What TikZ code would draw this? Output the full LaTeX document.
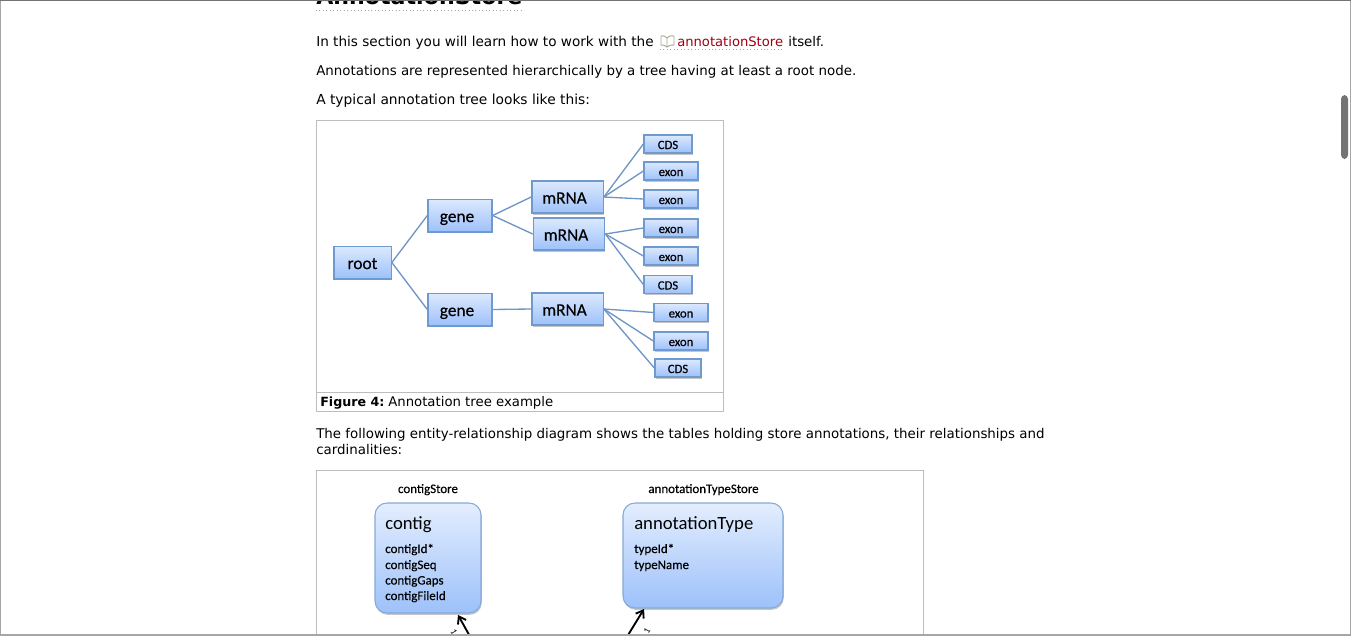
\documentclass[tikz,border=0pt]{standalone}
\usepackage{fontspec}
\setmainfont{DejaVu Sans}
\newfontfamily\figfont{Carlito}
\newfontfamily\figbold[FakeBold=0.35]{Carlito}
\usetikzlibrary{arrows.meta, positioning, shadows}

\definecolor{boxtop}{HTML}{DCE9FE}
\definecolor{boxbottom}{HTML}{9DC1FA}
\definecolor{boxline}{HTML}{6F9AD0}
\definecolor{treeline}{HTML}{6F94C6}
\definecolor{frameline}{HTML}{BDBDBD}
\definecolor{linkred}{HTML}{A00010}
\definecolor{bookline}{HTML}{A8A890}

\tikzset{
    treebox/.style={draw=boxline, line width=1pt, top color=boxtop, bottom color=boxbottom, minimum height=24.5pt, inner sep=0pt, text height=10pt, text depth=.2pt, drop shadow={shadow xshift=.6pt, shadow yshift=-1.2pt, opacity=.45}, font=\figbold\fontsize{13}{13}\selectfont},
    leftbox/.style={treebox, execute at end node=\hspace{4.5pt}},
    smallbox/.style={treebox, minimum height=13.5pt, text height=7.5pt, text depth=0pt, font=\figbold\fontsize{9.5}{9.5}\selectfont},
    erbox/.style={draw=boxline!85, line width=.8pt, rounded corners=9pt, top color=boxtop!80!white, bottom color=boxbottom, inner sep=0pt, drop shadow={shadow xshift=.6pt, shadow yshift=-1.4pt, opacity=.45}},
    pagetext/.style={anchor=base west, inner sep=0pt, font=\fontsize{10.05}{10.05}\selectfont},
    figtext/.style={anchor=base west, inner sep=0pt, font=\figbold\fontsize{9.7}{9.7}\selectfont},
    titletext/.style={figtext, font=\figfont\fontsize{14}{14}\selectfont},
    link/.style={draw=treeline, line width=1pt},
    rel/.style={-{Straight Barb[length=5pt, width=7pt]}, line width=1.4pt}
}

\begin{document}
\begin{tikzpicture}[x=.75pt, y=-.75pt]
    \useasboundingbox (0, 0) rectangle (1351, 635);
    \clip (0, 0) rectangle (1351, 635);

    % page
    \node[pagetext, font=\bfseries\fontsize{16.6}{16.6}\selectfont] (heading) at (316, 5) {AnnotationStore};
    \draw[gray!70, dotted, line width=.6pt] (316, 10) -- (524, 10);
    \node[pagetext, font=\fontsize{10.2}{10.2}\selectfont] (line1) at (316, 46) {In this section you will learn how to work with the};
    \draw[bookline, line width=.7pt] (667, 38) .. controls (664, 35) and (662, 36) .. (661, 36) -- (661, 45) .. controls (663, 45) and (665, 45) .. (667, 47) .. controls (669, 45) and (671, 45) .. (674, 45) -- (674, 36) .. controls (672, 36) and (670, 35) .. (667, 38) -- (667, 47);
    \node[pagetext, text=linkred, font=\fontsize{9.85}{9.85}\selectfont] (store) at (677, 46) {annotationStore};
    \draw[gray!70, dotted, line width=.6pt] (660, 49) -- (783, 49);
    \node[pagetext] (itself) at (788, 46) {itself.};
    \node[pagetext] (line2) at (316, 75) {Annotations are represented hierarchically by a tree having at least a root node.};
    \node[pagetext, font=\fontsize{10.35}{10.35}\selectfont] (line3) at (316, 104) {A typical annotation tree looks like this:};

    % annotation tree
    \draw[frameline, line width=.75pt] (316.5, 120.5) rectangle (723.5, 411.5);
    \draw[frameline, line width=.75pt] (316.5, 392.5) -- (723.5, 392.5);

    \node[treebox, minimum width=43pt] (root) at (362.5, 262.5) {root};
    \node[leftbox, minimum width=48pt] (gene1) at (460, 215.5) {gene};
    \node[leftbox, minimum width=48pt] (gene2) at (460, 309.5) {gene};
    \node[leftbox, minimum width=53.5pt, minimum height=24pt] (mrna1) at (567.5, 197) {mRNA};
    \node[leftbox, minimum width=53.5pt, minimum height=24pt] (mrna2) at (569, 234) {mRNA};
    \node[leftbox, minimum width=53.5pt, minimum height=24pt] (mrna3) at (567.5, 309) {mRNA};
    \node[smallbox, minimum width=36pt] (cds1) at (668, 144) {CDS};
    \node[smallbox, minimum width=40.5pt] (exon1) at (671, 171) {exon};
    \node[smallbox, minimum width=40.5pt] (exon2) at (671, 199) {exon};
    \node[smallbox, minimum width=40.5pt] (exon3) at (671, 228) {exon};
    \node[smallbox, minimum width=40.5pt] (exon4) at (671, 256) {exon};
    \node[smallbox, minimum width=36pt] (cds2) at (668, 284.5) {CDS};
    \node[smallbox, minimum width=40.5pt] (exon5) at (681, 312.5) {exon};
    \node[smallbox, minimum width=40.5pt] (exon6) at (681, 341) {exon};
    \node[smallbox, minimum width=34.5pt] (cds3) at (678, 368) {CDS};

    \draw[link]
    (root.east) edge (gene1.west)
    (root.east) edge (gene2.west)
    (gene1.east) edge (mrna1.west)
    (gene1.east) edge (mrna2.west)
    (gene2.east) edge (mrna3.west)
    (mrna1.east) edge (cds1.west)
    (mrna1.east) edge (exon1.west)
    (mrna1.east) edge (exon2.west)
    (mrna2.east) edge (exon3.west)
    (mrna2.east) edge (exon4.west)
    (mrna2.east) edge (cds2.west)
    (mrna3.east) edge (exon5.west)
    (mrna3.east) edge (exon6.west)
    (mrna3.east) edge (cds3.west);

    \node[pagetext, font=\bfseries\fontsize{9.5}{9.5}\selectfont] (figlabel) at (320, 406) {Figure 4:};
    \node[pagetext, font=\fontsize{9.95}{9.95}\selectfont] (figcaption) at (388, 406) {Annotation tree example};

    \node[pagetext] (line4) at (316, 438) {The following entity-relationship diagram shows the tables holding store annotations, their relationships and};
    \node[pagetext] (line5) at (316, 454) {cardinalities:};

    % entity-relationship diagram
    \draw[frameline, line width=.75pt] (316.5, 470.5) rectangle (923.5, 650);

    \node[figtext, anchor=base] (contigstore) at (428, 493) {contigStore};
    \node[figtext, anchor=base] (typestore) at (703.5, 493) {annotationTypeStore};

    \node[erbox, minimum width=79.5pt, minimum height=82.5pt] (contig) at (428, 558) {};
    \node[titletext] (contigname) at (385, 529) {contig};
    \node[figtext] (contigid) at (385, 553) {contigId*};
    \node[figtext] (contigseq) at (385, 569) {contigSeq};
    \node[figtext] (contiggaps) at (385, 584.5) {contigGaps};
    \node[figtext] (contigfile) at (385, 600) {contigFileId};

    \node[erbox, minimum width=120pt, minimum height=78.75pt] (anntype) at (703, 555.5) {};
    \node[titletext] (typename) at (634, 529) {annotationType};
    \node[figtext] (typeid) at (634, 553) {typeId*};
    \node[figtext] (typelabel) at (634, 569) {typeName};

    \coordinate (contigfrom) at (472, 640);
    \coordinate (typefrom) at (625, 640);
    \coordinate (contigto) at (458, 615);
    \coordinate (typeto) at (644, 609);
    \draw[rel] (contigfrom) -- (contigto);
    \draw[rel] (typefrom) -- (typeto);
    \node[figtext, font=\figfont\fontsize{7}{7}\selectfont, anchor=center, rotate=-60] (contigone) at (454, 632) {1};
    \node[figtext, font=\figfont\fontsize{7}{7}\selectfont, anchor=center, rotate=60] (typeone) at (647, 631) {1};

    % window
    \fill[black!55, rounded corners=3pt] (1341, 95) rectangle (1348, 159);
    \draw[black!35, line width=1.5pt] (0, 635) -- (0, 0) (0, 635) -- (1351, 635) (1351, 0) -- (1351, 635);
    \draw[black!55, line width=1.5pt] (0, 0) -- (1351, 0);
\end{tikzpicture}
\end{document}
